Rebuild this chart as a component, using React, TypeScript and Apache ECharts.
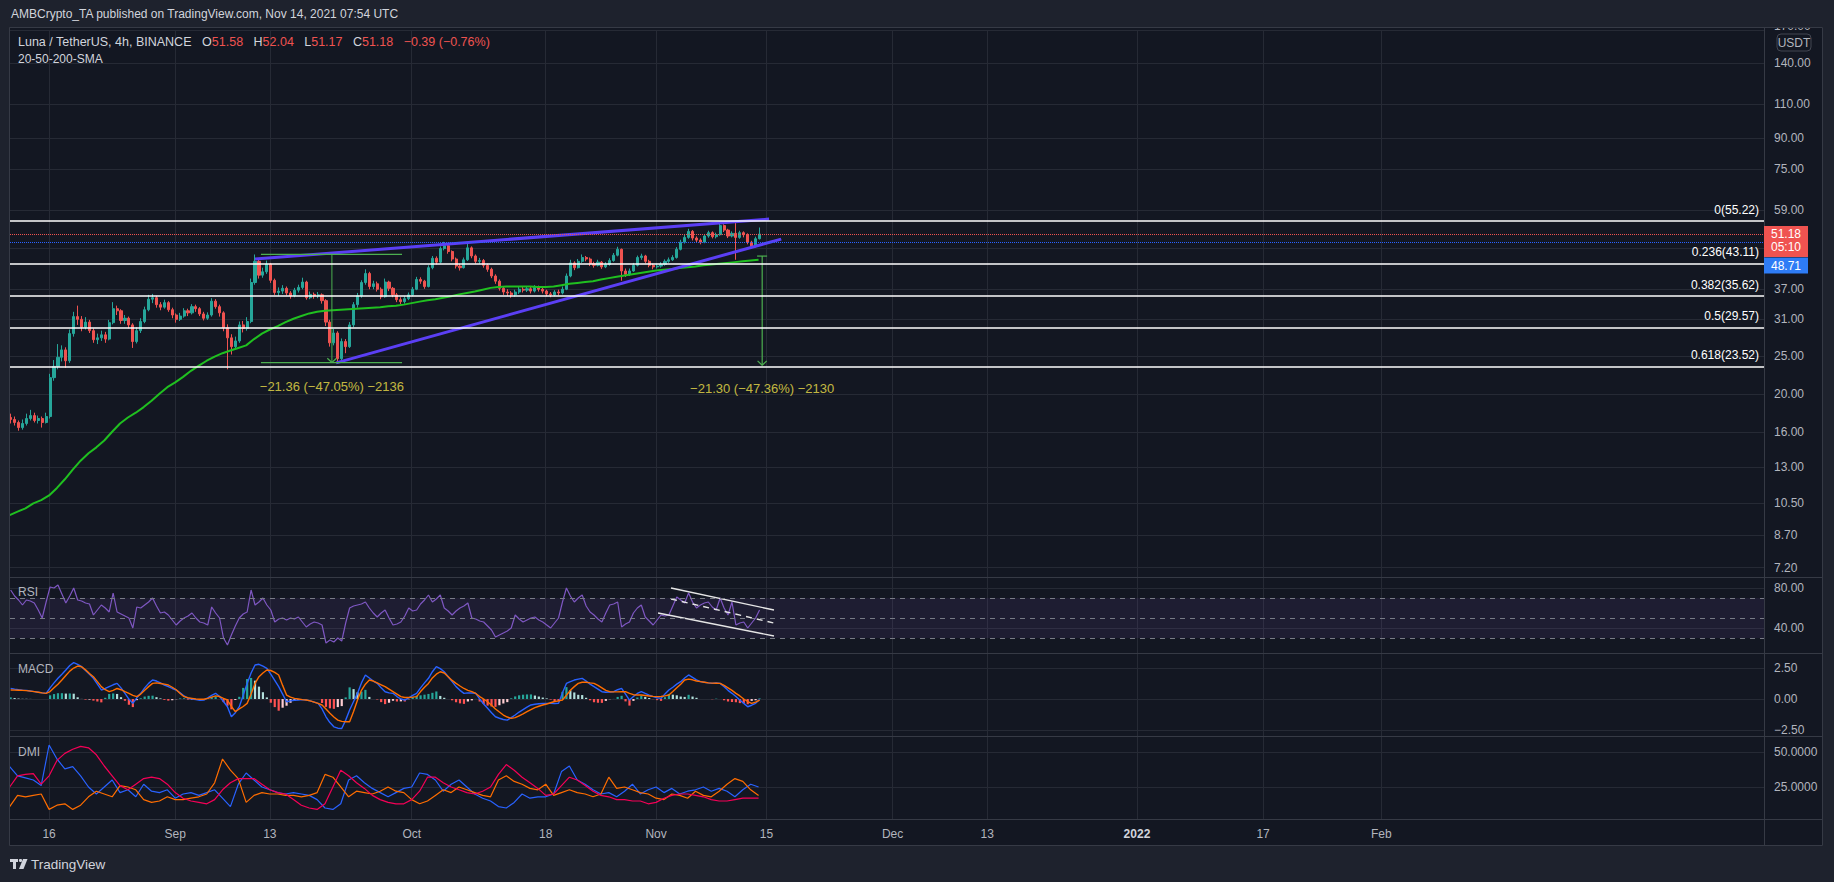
import React, { useEffect, useRef } from "react";
import * as echarts from "echarts";

const HOUR = 3600 * 1000;
const DAY = 24 * HOUR;
const AXIS_MIN = Date.UTC(2021, 7, 11, 1, 0);
const AXIS_MAX = AXIS_MIN + 222.5 * DAY;
const BAR_START = Date.UTC(2021, 7, 11, 3, 0); // 12h candles / indicators
const DAILY_START = Date.UTC(2021, 7, 11, 0, 0);

// ---- price candles (12h), open = previous close ----
const firstOpen = 17.4;
const closes = [
  17.2, 16.9, 16.4, 16.8, 17.3, 17.6, 17.1, 17.3, 16.9, 17.5,
  22.0, 23.5, 24.8, 25.9, 24.3, 28.5, 31.5, 31.0, 29.6, 30.5,
  29.0, 27.5, 27.8, 28.3, 27.6, 30.4, 33.0, 32.6, 30.8, 31.2,
  30.0, 27.2, 29.0, 30.6, 32.8, 34.9, 35.2, 33.8, 33.3, 34.2,
  32.8, 31.8, 31.0, 31.6, 32.6, 32.2, 33.4, 33.0, 32.0, 31.2,
  31.8, 34.5, 33.4, 32.2, 29.5, 27.8, 26.4, 27.3, 30.0, 29.4,
  30.6, 38.5, 43.6, 40.2, 41.0, 42.9, 39.0, 36.3, 36.6, 37.2,
  36.2, 35.6, 36.8, 37.4, 38.6, 35.2, 35.9, 35.6, 35.8, 34.6,
  30.5, 27.0, 28.6, 24.6, 27.2, 26.4, 30.0, 33.8, 35.6, 38.5,
  40.6, 37.6, 38.2, 37.0, 35.4, 38.6, 37.2, 35.8, 34.8, 34.4,
  35.0, 35.8, 37.0, 39.2, 38.8, 37.6, 42.0, 44.4, 43.4, 47.0,
  47.8, 46.2, 44.2, 42.4, 42.0, 44.0, 47.2, 45.0, 43.6, 43.8,
  42.6, 41.6, 40.0, 38.8, 37.2, 36.4, 36.2, 35.8, 36.4, 37.0,
  36.8, 37.1, 36.6, 37.4, 37.0, 36.6, 36.0, 35.8, 36.4, 36.2,
  37.0, 40.0, 43.2, 42.0, 43.6, 44.6, 44.2, 43.0, 42.6, 43.4,
  42.2, 42.8, 43.8, 45.2, 46.8, 41.2, 40.4, 41.2, 42.6, 44.6,
  45.0, 43.6, 42.6, 42.2, 42.4, 42.8, 43.6, 44.0, 44.6, 46.8,
  48.8, 50.2, 52.0, 50.0, 49.4, 48.8, 50.6, 51.6, 50.4, 51.0,
  53.8, 52.4, 50.6, 51.4, 50.2, 51.6, 51.0, 48.8, 47.6, 49.8,
  51.2,
];
const highs = [
  17.8, 17.5, 17.1, 17.2, 17.8, 18.2, 17.9, 17.6, 17.5, 17.9,
  22.5, 24.4, 26.8, 26.6, 26.3, 29.2, 32.4, 33.6, 31.6, 31.4,
  30.9, 29.4, 28.5, 29.0, 28.8, 30.9, 34.3, 33.6, 32.9, 31.8,
  31.5, 30.3, 29.6, 31.2, 33.4, 35.8, 36.0, 35.6, 34.3, 34.8,
  34.5, 33.2, 32.1, 32.2, 33.1, 33.0, 33.9, 33.8, 33.3, 32.4,
  32.3, 35.1, 34.9, 33.8, 32.5, 30.1, 28.4, 28.0, 30.6, 30.7,
  31.4, 39.4, 45.4, 44.2, 42.0, 43.8, 43.2, 39.4, 37.4, 37.9,
  37.6, 36.6, 37.3, 38.0, 39.6, 38.9, 36.5, 36.3, 36.4, 36.1,
  34.9, 30.9, 29.3, 28.9, 27.7, 27.6, 30.5, 34.3, 36.2, 39.0,
  41.6, 41.0, 38.9, 38.7, 37.4, 39.4, 38.9, 37.5, 36.2, 35.3,
  35.5, 36.3, 37.5, 39.8, 39.7, 39.1, 42.6, 45.0, 44.9, 47.6,
  48.9, 48.2, 46.5, 44.6, 43.0, 44.6, 48.6, 47.6, 45.4, 44.5,
  44.2, 43.0, 42.0, 40.4, 39.2, 37.6, 37.0, 36.6, 36.9, 37.5,
  37.5, 37.6, 37.5, 37.9, 37.8, 37.4, 36.9, 36.4, 36.8, 36.9,
  37.6, 40.6, 44.0, 43.6, 44.2, 45.4, 45.0, 44.6, 43.5, 44.0,
  43.7, 43.4, 44.4, 45.8, 47.5, 47.0, 41.8, 41.8, 43.2, 45.1,
  45.6, 45.3, 44.0, 43.0, 43.0, 43.4, 44.1, 44.6, 45.2, 47.4,
  49.5, 50.9, 52.8, 52.4, 50.5, 49.9, 51.2, 52.2, 52.0, 51.6,
  55.0, 54.2, 52.8, 52.0, 55.2, 52.2, 52.0, 51.4, 49.2, 50.4,
  53.2,
];
const lows = [
  16.8, 16.6, 16.1, 16.2, 16.6, 17.1, 16.9, 16.8, 16.4, 16.8,
  17.3, 21.6, 23.1, 24.2, 23.3, 24.0, 28.0, 30.0, 28.9, 29.2,
  28.6, 27.0, 26.8, 27.3, 27.0, 27.4, 30.1, 31.8, 30.2, 30.2,
  29.4, 26.2, 26.9, 28.6, 30.3, 32.5, 34.1, 33.2, 32.7, 33.0,
  32.4, 31.2, 30.4, 30.7, 31.3, 31.6, 31.9, 32.4, 31.6, 30.8,
  30.9, 31.5, 33.0, 31.5, 28.9, 23.1, 25.2, 25.9, 27.0, 28.7,
  29.0, 30.3, 38.0, 39.4, 39.6, 40.5, 38.4, 35.8, 35.6, 36.0,
  35.7, 35.0, 35.3, 36.3, 37.0, 34.8, 34.9, 35.0, 35.1, 34.0,
  29.8, 26.4, 26.6, 24.04, 24.3, 25.4, 26.2, 29.6, 33.2, 35.2,
  38.0, 37.0, 37.0, 36.5, 34.9, 35.2, 36.6, 35.3, 34.3, 33.9,
  34.0, 34.7, 35.5, 36.8, 38.2, 37.1, 37.4, 41.6, 42.8, 43.1,
  46.5, 45.6, 43.6, 41.8, 41.3, 41.8, 43.7, 44.4, 43.0, 43.0,
  42.0, 41.0, 39.5, 38.2, 36.7, 35.8, 35.6, 35.2, 35.4, 36.0,
  36.3, 36.4, 36.1, 36.3, 36.5, 36.1, 35.5, 35.3, 35.5, 35.7,
  35.9, 36.8, 39.7, 41.4, 41.8, 43.2, 43.6, 42.4, 42.0, 42.3,
  41.7, 41.9, 42.5, 43.5, 44.9, 38.9, 39.8, 40.0, 41.0, 42.3,
  44.0, 43.1, 42.1, 41.6, 41.8, 42.0, 42.5, 43.2, 43.7, 44.3,
  46.5, 48.4, 49.8, 49.3, 48.8, 48.2, 48.5, 50.1, 49.9, 49.9,
  50.7, 51.8, 50.0, 50.2, 44.0, 49.8, 50.2, 48.2, 47.0, 47.3,
  49.6,
];

// ---- 200 SMA (daily samples) ----
const sma200 = [
  9.8, 10.0, 10.2, 10.5, 10.7, 11.0, 11.5, 12.1, 12.8, 13.5,
  14.1, 14.6, 15.2, 16.0, 16.8, 17.4, 17.9, 18.5, 19.2, 20.0,
  20.8, 21.4, 22.1, 22.9, 23.6, 24.3, 24.9, 25.4, 25.8, 26.2,
  26.6, 27.6, 28.5, 29.2, 29.8, 30.5, 31.1, 31.6, 32.1, 32.4,
  32.6, 32.7, 32.8, 32.9, 33.0, 33.1, 33.2, 33.3, 33.5, 33.6,
  33.8, 34.1, 34.4, 34.7, 34.9, 35.2, 35.5, 35.9, 36.2, 36.5,
  36.9, 37.3, 37.5, 37.6, 37.6, 37.6, 37.6, 37.5, 37.5, 37.6,
  37.9, 38.2, 38.4, 38.6, 38.8, 39.2, 39.5, 39.8, 40.1, 40.4,
  40.7, 41.0, 41.3, 41.5, 41.7, 41.9, 42.1, 42.3, 42.6, 42.8,
  43.0, 43.2, 43.4, 43.6, 43.8, 44.0,
];

// ---- RSI (12h) ----
const rsi = [
  78, 72, 68, 63, 68, 67, 65, 58, 50, 66,
  81, 80, 83, 74, 65, 72, 80, 68, 67, 65,
  64, 53, 58, 63, 60, 56, 75, 56, 54, 52,
  50, 40, 61, 60, 63, 66, 70, 62, 55, 56,
  53, 48, 43, 47, 50, 52, 55, 50, 46, 45,
  43, 61, 55, 50, 30, 23, 33, 42, 50, 54,
  56, 78, 63, 66, 70, 63, 58, 46, 49, 50,
  48, 50, 49, 51, 46, 41, 44, 46, 45, 43,
  25, 28, 26, 30, 27, 45, 60, 62, 63, 64,
  66, 60, 55, 51, 55, 58, 50, 43, 44, 46,
  52, 60, 57, 58, 64, 68, 73, 66, 69, 73,
  60, 57, 53, 57, 60, 62, 65, 50, 49, 47,
  46, 42, 38, 31, 33, 35, 37, 40, 53, 49,
  46, 48, 50, 51, 48, 46, 43, 40, 45, 50,
  66, 80, 72, 66, 70, 73, 62, 56, 53, 49,
  46, 55, 63, 64, 66, 41, 44, 46, 55, 60,
  63, 51, 47, 43, 48, 53, 52, 53, 62, 71,
  68, 65, 75, 66, 60, 63, 65, 66, 61, 58,
  70, 60, 53, 66, 43, 45, 46, 40, 45, 50,
  58,
];

// ---- MACD (12h) ----
const macdLine = [
  0.86, 0.8, 0.75, 0.72, 0.7, 0.65, 0.6, 0.55, 0.5, 0.46,
  0.9, 1.3, 1.67, 2.0, 2.34, 2.7, 2.93, 2.8, 2.61, 2.3,
  2.0, 1.67, 1.2, 0.73, 0.85, 1.0, 1.15, 1.26, 0.9, 0.46,
  0.0, -0.35, 0.1, 0.46, 0.9, 1.26, 1.53, 1.45, 1.3, 1.13,
  1.0, 0.85, 0.73, 0.5, 0.25, 0.05, 0.0, -0.05, -0.1, -0.08,
  0.1, 0.3, 0.46, 0.2, -0.2, -0.62, -1.43, -1.1, -0.62, 0.3,
  1.26, 2.1, 2.74, 2.8, 2.65, 2.47, 2.0, 1.5, 1.0, 0.4,
  -0.22, -0.15, -0.1, -0.08, -0.05, -0.08, -0.15, -0.25, -0.35, -0.8,
  -1.43, -1.9, -2.24, -2.35, -2.37, -1.7, -0.89, -0.2, 0.46, 1.3,
  1.94, 1.7, 1.45, 1.26, 0.9, 0.59, 0.5, 0.46, 0.2, 0.0,
  -0.08, 0.1, 0.3, 0.46, 0.9, 1.3, 1.67, 2.2, 2.61, 2.45,
  2.2, 1.8, 1.4, 1.0, 0.7, 0.46, 0.5, 0.48, 0.46, 0.0,
  -0.4, -0.75, -1.1, -1.43, -1.55, -1.65, -1.7, -1.5, -1.29, -1.05,
  -0.85, -0.65, -0.48, -0.42, -0.38, -0.36, -0.35, -0.35, -0.36, -0.35,
  0.5, 1.26, 1.4, 1.53, 1.6, 1.67, 1.45, 1.2, 1.0, 0.8,
  0.59, 0.55, 0.57, 0.59, 0.75, 0.86, 0.4, -0.08, 0.2, 0.45,
  0.59, 0.45, 0.32, 0.2, 0.1, 0.05, 0.4, 0.73, 0.95, 1.2,
  1.4, 1.7, 1.94, 1.75, 1.55, 1.4, 1.35, 1.3, 1.26, 1.3,
  1.26, 1.0, 0.7, 0.46, 0.2, -0.08, -0.35, -0.62, -0.5, -0.35,
  -0.03,
];
const signalLine = [
  0.73, 0.72, 0.71, 0.7, 0.68, 0.64, 0.6, 0.55, 0.5, 0.46,
  0.6, 0.9, 1.2, 1.53, 1.9, 2.25, 2.5, 2.66, 2.6, 2.35,
  2.05, 1.8, 1.4, 1.0, 0.75, 0.59, 0.7, 0.85, 0.75, 0.6,
  0.46, 0.3, 0.19, 0.4, 0.7, 1.0, 1.26, 1.3, 1.25, 1.2,
  1.13, 0.95, 0.75, 0.45, 0.19, 0.1, 0.05, 0.0, -0.02, -0.02,
  0.05, 0.15, 0.25, 0.2, 0.05, -0.08, -0.6, -1.02, -0.8, -0.6,
  -0.35, 0.4, 1.26, 1.8, 2.1, 2.34, 2.3, 2.15, 1.94, 1.1,
  0.32, 0.15, 0.05, 0.0, -0.05, -0.08, -0.15, -0.25, -0.35, -0.48,
  -0.8, -1.15, -1.45, -1.7, -1.8, -1.83, -1.83, -1.0, -0.08, 0.7,
  1.2, 1.53, 1.45, 1.3, 1.15, 1.0, 0.8, 0.6, 0.4, 0.19,
  0.12, 0.12, 0.15, 0.19, 0.6, 0.95, 1.26, 1.7, 2.0, 2.2,
  2.1, 1.8, 1.5, 1.26, 1.05, 0.85, 0.7, 0.59, 0.45, 0.2,
  0.0, -0.22, -0.5, -0.8, -1.05, -1.29, -1.45, -1.56, -1.5, -1.35,
  -1.2, -1.02, -0.85, -0.7, -0.58, -0.48, -0.4, -0.3, -0.2, -0.15,
  -0.08, 0.3, 0.7, 1.0, 1.26, 1.35, 1.35, 1.3, 1.26, 1.1,
  0.9, 0.7, 0.59, 0.58, 0.58, 0.6, 0.59, 0.45, 0.35, 0.33,
  0.32, 0.28, 0.24, 0.21, 0.19, 0.2, 0.25, 0.32, 0.6, 0.9,
  1.2, 1.53, 1.6, 1.55, 1.45, 1.4, 1.35, 1.3, 1.28, 1.27,
  1.26, 1.1, 0.9, 0.7, 0.46, 0.25, 0.0, -0.2, -0.35, -0.25,
  -0.08,
];

// ---- DMI (daily) ----
const plusDI = [
  39.5, 33, 31.5, 30, 26, 55, 45, 38, 39.5, 33,
  25, 20, 25, 30, 21, 23, 18, 27, 22, 21,
  23, 17, 20, 21, 19, 21, 23, 17, 11, 27,
  35, 30, 25, 23, 21, 20, 21, 20, 19, 16,
  10, 9, 13, 30, 33, 28, 24, 21, 18, 21,
  24, 25, 35, 34, 30, 22, 27, 30, 25, 20,
  17, 15, 11, 10, 14, 20, 17, 18, 18, 20,
  36, 40, 30, 27, 23, 20, 21, 18, 22, 27,
  20, 23, 25, 21, 24, 20, 22, 23, 25, 22,
  24, 22, 18, 23, 27, 25,
];
const minusDI = [
  11, 19, 18, 19, 20, 9, 12, 13, 9, 12,
  18, 22, 20, 18, 26, 25, 23, 16, 14, 15,
  18, 16, 16, 17, 18, 20, 28, 45, 37, 31,
  14, 19, 21, 20, 20, 19, 19, 18, 19, 21,
  34, 32, 25, 18, 22, 21, 20, 22, 25, 22,
  21, 16, 13, 15, 19, 23, 21, 25, 23, 21,
  19, 18, 30, 33, 29, 27, 24, 23, 27, 19,
  21, 23, 21, 20, 18, 20, 32, 24, 25, 23,
  21, 20, 17, 16, 20, 19, 17, 22, 19, 18,
  22, 27, 31, 29, 23, 19,
];
const adx = [
  25, 33, 34, 34.5, 27, 33, 44, 49, 52, 54,
  53, 48, 40, 33, 26, 23, 27, 31, 32, 31,
  27, 21, 17, 15, 14, 13, 16, 23, 28, 31,
  31, 31, 27, 23, 21, 20, 16, 12, 10, 9,
  13, 25, 37, 33, 28, 24, 19, 16, 14, 13,
  13, 16, 22, 32, 32, 28, 25, 23, 21, 20,
  22, 25, 34, 41, 37, 32, 28, 24, 19, 20,
  26, 32, 30, 26, 22, 19, 18, 16, 16, 15,
  15, 13, 14, 17, 19, 20, 20, 19, 18, 16,
  15, 15, 16, 17, 17, 17,
];

// ---- axes ----
const timeTickDates = [
  Date.UTC(2021, 7, 16), Date.UTC(2021, 8, 1), Date.UTC(2021, 8, 13), Date.UTC(2021, 9, 1),
  Date.UTC(2021, 9, 18), Date.UTC(2021, 10, 1), Date.UTC(2021, 10, 15), Date.UTC(2021, 11, 1),
  Date.UTC(2021, 11, 13), Date.UTC(2022, 0, 1), Date.UTC(2022, 0, 17), Date.UTC(2022, 1, 1),
];
const timeTickLabels = ["16", "Sep", "13", "Oct", "18", "Nov", "15", "Dec", "13", "2022", "17", "Feb"];
const priceTicks = [7.2, 8.7, 10.5, 13, 16, 20, 25, 31, 37, 47, 59, 75, 90, 110, 140, 170];
const topPriceTick = 170;
const rsiTicks = [40, 80];
const rsiLevels = [70, 50, 30];
const macdTicks = [-2.5, 0, 2.5];
const dmiTicks = [25, 50];

// ---- drawings ----
const fibLevels = ["0", "0.236", "0.382", "0.5", "0.618"];
const fibPrices = [55.22, 43.11, 35.62, 29.57, 23.52];
const lastClose = 51.18;
const countdown = "05:10";
const blueMark = 48.71;
const upperTrend = [["2021-09-11T03:00Z", 44.2], ["2021-11-15T08:00Z", 55.9]];
const lowerTrend = [["2021-09-21T10:00Z", 24.0], ["2021-11-16T21:00Z", 49.7]];
const measure1 = { from: 45.4, to: 24.04, t: "2021-09-20T21:00Z", left: "2021-09-11T21:00Z", right: "2021-09-29T18:30Z", text: "\u221221.36 (\u221247.05%) \u22122136", textPrice: 20.94 };
const measure2 = { from: 44.97, to: 23.67, t: "2021-11-14T11:00Z", capL: "2021-11-13T19:30Z", capR: "2021-11-15T02:00Z", text: "\u221221.30 (\u221247.36%) \u22122130", textPrice: 20.68 };
const rsiChannel = {
  upper: [["2021-11-02T21:30Z", 80], ["2021-11-15T23:00Z", 58]],
  middle: [["2021-11-02T21:30Z", 69], ["2021-11-15T23:00Z", 45]],
  lower: [["2021-11-01T06:00Z", 55], ["2021-11-15T23:00Z", 32]],
};

const FONT = "'Liberation Sans', Arial, sans-serif";
const TXT = "#b2b5be";
const GRIDC = "#262a35";
const SEP = "#363a45";
const BG = "#131722";
const OUTER = "#1e222d";

const t = (s: string) => new Date(s).getTime();
const shift = (s: string, hours: number) => t(s) + hours * HOUR;

function buildOption(): any {
  const candleData = closes.map((c, i) => {
    const o = i === 0 ? firstOpen : closes[i - 1];
    return [BAR_START + i * 12 * HOUR, o, c, lows[i], highs[i]];
  });
  const ts12 = (i: number) => BAR_START + i * 12 * HOUR;
  const tsD = (d: number) => DAILY_START + d * DAY;

  const hist = macdLine.map((m, i) => m - signalLine[i]);
  const histData = hist.map((h, i) => {
    const prev = i > 0 ? hist[i - 1] : 0;
    const color = h >= 0 ? (h >= prev ? "#26a69a" : "#b2dfdb") : (h < prev ? "#ff5252" : "#ffcdd2");
    return { value: [ts12(i), h], itemStyle: { color } };
  });

  const xAxisFor = (gi: number, labels: boolean) => ({
    type: "value",
    gridIndex: gi,
    min: AXIS_MIN,
    max: AXIS_MAX,
    axisLine: { show: false },
    axisTick: { show: false, customValues: timeTickDates },
    axisLabel: labels
      ? {
          show: true,
          customValues: timeTickDates,
          color: TXT,
          fontSize: 12,
          fontFamily: FONT,
          margin: 9,
          formatter: (v: number) => {
            const k = timeTickDates.indexOf(Number(v));
            const s = k >= 0 ? timeTickLabels[k] : "";
            return s === "2022" ? "{b|2022}" : s;
          },
          rich: { b: { fontWeight: "bold", color: "#d1d4dc", fontSize: 12, fontFamily: FONT } },
        }
      : { show: false, customValues: timeTickDates },
    splitLine: { show: true, lineStyle: { color: GRIDC, width: 1 } },
  });

  const yAxisFor = (gi: number, extra: any, ticks: number[], labelTicks: number[], fmt: (v: number) => string) => ({
    gridIndex: gi,
    position: "right",
    axisLine: { show: false },
    axisTick: { show: false, customValues: ticks },
    axisLabel: { customValues: labelTicks, formatter: fmt, color: TXT, fontSize: 12, fontFamily: FONT, margin: 10 },
    splitLine: { show: true, lineStyle: { color: GRIDC, width: 1 } },
    ...extra,
  });
  const minus = (v: number, d: number) => (v < 0 ? "\u2212" + Math.abs(v).toFixed(d) : v.toFixed(d));

  const seg = (xi: number, pts: any[], color: string, width: number, type: any = "solid", z = 4) => ({
    type: "line",
    xAxisIndex: xi,
    yAxisIndex: xi,
    data: pts,
    showSymbol: false,
    symbol: "none",
    silent: true,
    z,
    lineStyle: { color, width, type },
  });
  const GREEN = "#4caf50";
  const chevW = 14; // hours

  const textSeries = (ts: number, price: number, text: string) => ({
    type: "scatter",
    xAxisIndex: 0,
    yAxisIndex: 0,
    symbolSize: 1,
    silent: true,
    itemStyle: { color: "rgba(0,0,0,0)" },
    data: [[ts, price]],
    label: { show: true, position: "inside", formatter: text, color: "#f2e24a", fontSize: 13, fontFamily: FONT },
    z: 6,
  });

  return {
    animation: false,
    backgroundColor: BG,
    grid: [
      { left: 10, top: 30, width: 1754, height: 547 },
      { left: 10, top: 577, width: 1754, height: 76 },
      { left: 10, top: 653, width: 1754, height: 83 },
      { left: 10, top: 736, width: 1754, height: 83 },
    ],
    xAxis: [xAxisFor(0, false), xAxisFor(1, false), xAxisFor(2, false), xAxisFor(3, true)],
    yAxis: [
      yAxisFor(0, { type: "log", logBase: 10, min: 6.81, max: 170 }, priceTicks, priceTicks.filter((v) => v !== topPriceTick), (v) => Number(v).toFixed(2)),
      yAxisFor(1, { type: "value", min: 15, max: 91 }, rsiTicks, rsiTicks, (v) => Number(v).toFixed(2)),
      yAxisFor(2, { type: "value", min: -2.98, max: 3.71 }, macdTicks, macdTicks, (v) => minus(Number(v), 2)),
      yAxisFor(3, { type: "value", min: 2.14, max: 61.43 }, dmiTicks, dmiTicks, (v) => Number(v).toFixed(4)),
    ],
    series: [
      {
        type: "candlestick",
        xAxisIndex: 0,
        yAxisIndex: 0,
        data: candleData,
        barWidth: 2.6,
        z: 3,
        itemStyle: { color: "#26a69a", color0: "#ef5350", borderColor: "#26a69a", borderColor0: "#ef5350", borderWidth: 1 },
        markLine: {
          symbol: ["none", "none"],
          silent: true,
          data: [
            ...fibPrices.map((p, k) => ({
              yAxis: p,
              lineStyle: { color: "#ffffff", width: 1.5, type: "solid" },
              label: {
                show: true,
                position: "insideEndTop",
                formatter: `${fibLevels[k]}(${p.toFixed(2)})`,
                color: "#ffffff",
                fontSize: 12,
                fontFamily: FONT,
              },
            })),
            { yAxis: lastClose, lineStyle: { color: "#ef5350", width: 1, type: "dotted" }, label: { show: false } },
            { yAxis: blueMark, lineStyle: { color: "#2962ff", width: 1, type: "dotted" }, label: { show: false } },
          ],
        },
      },
      {
        type: "line",
        xAxisIndex: 0,
        yAxisIndex: 0,
        data: sma200.map((v, d) => [tsD(d), v]),
        showSymbol: false,
        symbol: "none",
        z: 4,
        lineStyle: { color: "#20c020", width: 2 },
      },
      seg(0, upperTrend.map(([s, v]) => [t(s as string), v]), "#5b3ff5", 3),
      seg(0, lowerTrend.map(([s, v]) => [t(s as string), v]), "#5b3ff5", 3),
      // measurement 1
      seg(0, [[t(measure1.left), measure1.from], [t(measure1.right), measure1.from]], GREEN, 1.2),
      seg(0, [[t(measure1.left), measure1.to], [t(measure1.right), measure1.to]], GREEN, 1.2),
      seg(0, [[t(measure1.t), measure1.from], [t(measure1.t), measure1.to]], GREEN, 1),
      seg(0, [[shift(measure1.t, -chevW), measure1.to * 1.026], [t(measure1.t), measure1.to], [shift(measure1.t, chevW), measure1.to * 1.026]], GREEN, 1.2),
      // measurement 2
      seg(0, [[t(measure2.capL), measure2.from], [t(measure2.capR), measure2.from]], GREEN, 1.2),
      seg(0, [[t(measure2.t), measure2.from], [t(measure2.t), measure2.to]], GREEN, 1.2),
      seg(0, [[shift(measure2.t, -chevW), measure2.to * 1.026], [t(measure2.t), measure2.to], [shift(measure2.t, chevW), measure2.to * 1.026]], GREEN, 1.2),
      textSeries(t(measure1.t), measure1.textPrice, measure1.text),
      textSeries(t(measure2.t), measure2.textPrice, measure2.text),
      // RSI
      {
        type: "line",
        xAxisIndex: 1,
        yAxisIndex: 1,
        data: rsi.map((v, i) => [ts12(i), v]),
        showSymbol: false,
        symbol: "none",
        lineStyle: { color: "#7e57c2", width: 1.2 },
        markLine: {
          symbol: ["none", "none"],
          silent: true,
          label: { show: false },
          lineStyle: { color: "#787b86", width: 1, type: [5, 5] },
          data: rsiLevels.map((v) => ({ yAxis: v })),
        },
        markArea: {
          silent: true,
          itemStyle: { color: "rgba(126, 87, 194, 0.1)" },
          data: [[{ yAxis: rsiLevels[0] }, { yAxis: rsiLevels[2] }]],
        },
      },
      seg(1, rsiChannel.upper.map(([s, v]) => [t(s as string), v]), "#e6e6e6", 1.4),
      seg(1, rsiChannel.middle.map(([s, v]) => [t(s as string), v]), "#e6e6e6", 1.4, [6, 5]),
      seg(1, rsiChannel.lower.map(([s, v]) => [t(s as string), v]), "#e6e6e6", 1.4),
      // MACD
      { type: "bar", xAxisIndex: 2, yAxisIndex: 2, data: histData, barWidth: 2.2, silent: true },
      seg(2, macdLine.map((v, i) => [ts12(i), v]), "#2962ff", 1.4),
      seg(2, signalLine.map((v, i) => [ts12(i), v]), "#ff6d00", 1.4),
      // DMI
      seg(3, plusDI.map((v, d) => [tsD(d), v]), "#2962ff", 1.2),
      seg(3, minusDI.map((v, d) => [tsD(d), v]), "#ff6d00", 1.2),
      seg(3, adx.map((v, d) => [tsD(d), v]), "#f50057", 1.2),
    ],
  };
}

function buildGraphic(yRed: number, yBlue: number, yTop: number): any[] {
  const txt = (x: number, y: number, text: string, fill: string, size = 12, extra: any = {}, z = 120) => ({
    type: "text",
    x,
    y,
    z,
    silent: true,
    style: { text, fill, fontSize: size, fontFamily: FONT, verticalAlign: "middle", ...extra },
  });
  const rich = {
    w: { fill: "#d1d4dc", fontSize: 12.5, fontFamily: FONT },
    r: { fill: "#ef5350", fontSize: 12.5, fontFamily: FONT },
  };
  const boxX = 1764;
  const LOGO = "#d1d4dc";
  return [
    txt(1774, yTop - 4, topPriceTick.toFixed(2), TXT, 12, {}, 50),
    { type: "rect", z: 100, silent: true, shape: { x: 0, y: 0, width: 1834, height: 27 }, style: { fill: OUTER } },
    { type: "rect", z: 100, silent: true, shape: { x: 0, y: 0, width: 10, height: 882 }, style: { fill: OUTER } },
    { type: "rect", z: 100, silent: true, shape: { x: 1823, y: 0, width: 11, height: 882 }, style: { fill: OUTER } },
    { type: "rect", z: 100, silent: true, shape: { x: 0, y: 846, width: 1834, height: 36 }, style: { fill: OUTER } },
    { type: "rect", z: 101, silent: true, shape: { x: 9.5, y: 27.5, width: 1813, height: 818 }, style: { fill: "none", stroke: SEP, lineWidth: 1 } },
    ...[577, 653, 736, 819].map((y) => ({ type: "line", z: 101, silent: true, shape: { x1: 10, y1: y + 0.5, x2: 1823, y2: y + 0.5 }, style: { stroke: SEP, lineWidth: 1 } })),
    { type: "line", z: 101, silent: true, shape: { x1: 1764.5, y1: 28, x2: 1764.5, y2: 846 }, style: { stroke: SEP, lineWidth: 1 } },
    txt(11, 14, "AMBCrypto_TA published on TradingView.com, Nov 14, 2021 07:54 UTC", "#d1d4dc", 12),
    {
      type: "text",
      x: 18,
      y: 42,
      z: 120,
      silent: true,
      style: {
        text: "{w|Luna / TetherUS, 4h, BINANCE}   {w|O}{r|51.58}   {w|H}{r|52.04}   {w|L}{r|51.17}   {w|C}{r|51.18}   {r|\u22120.39 (\u22120.76%)}",
        rich,
        verticalAlign: "middle",
        fontSize: 12.5,
        fontFamily: FONT,
      },
    },
    txt(18, 59, "20-50-200-SMA", "#d1d4dc", 12),
    txt(18, 592, "RSI", TXT, 12),
    txt(18, 669, "MACD", TXT, 12),
    txt(18, 752, "DMI", TXT, 12),
    { type: "rect", z: 110, silent: true, shape: { x: 1777, y: 34, width: 34, height: 17, r: 4 }, style: { fill: BG, stroke: "#434651", lineWidth: 1 } },
    txt(1794, 42.5, "USDT", TXT, 12, { align: "center" }),
    { type: "rect", z: 110, silent: true, shape: { x: boxX, y: yRed - 8, width: 44, height: 31 }, style: { fill: "#ef5350" } },
    txt(boxX + 22, yRed, lastClose.toFixed(2), "#ffffff", 12, { align: "center" }),
    txt(boxX + 22, yRed + 13, countdown, "#ffffff", 12, { align: "center" }),
    { type: "rect", z: 110, silent: true, shape: { x: boxX, y: yBlue + 15, width: 44, height: 16 }, style: { fill: "#2e7cf6" } },
    txt(boxX + 22, yBlue + 23, blueMark.toFixed(2), "#ffffff", 12, { align: "center" }),
    { type: "rect", z: 120, silent: true, shape: { x: 10, y: 859, width: 8, height: 3 }, style: { fill: LOGO } },
    { type: "rect", z: 120, silent: true, shape: { x: 13, y: 859, width: 3, height: 10 }, style: { fill: LOGO } },
    { type: "circle", z: 120, silent: true, shape: { cx: 20.5, cy: 860.5, r: 1.6 }, style: { fill: LOGO } },
    { type: "polygon", z: 120, silent: true, shape: { points: [[23, 859], [27.5, 859], [23.5, 869], [19, 869]] }, style: { fill: LOGO } },
    txt(31, 864, "TradingView", LOGO, 13.5),
  ];
}

export default function App() {
  const ref = useRef<HTMLDivElement>(null);
  useEffect(() => {
    if (!ref.current) return;
    const chart = echarts.init(ref.current, null, { renderer: "svg" });
    chart.setOption(buildOption());
    const yRed = chart.convertToPixel({ yAxisIndex: 0 } as any, lastClose) as unknown as number;
    const yBlue = chart.convertToPixel({ yAxisIndex: 0 } as any, blueMark) as unknown as number;
    const yTop = chart.convertToPixel({ yAxisIndex: 0 } as any, topPriceTick) as unknown as number;
    chart.setOption({ graphic: buildGraphic(yRed, yBlue, yTop) });
    return () => chart.dispose();
  }, []);
  return <div ref={ref} style={{ position: "fixed", left: 0, top: 0, width: 1834, height: 882 }} />;
}
